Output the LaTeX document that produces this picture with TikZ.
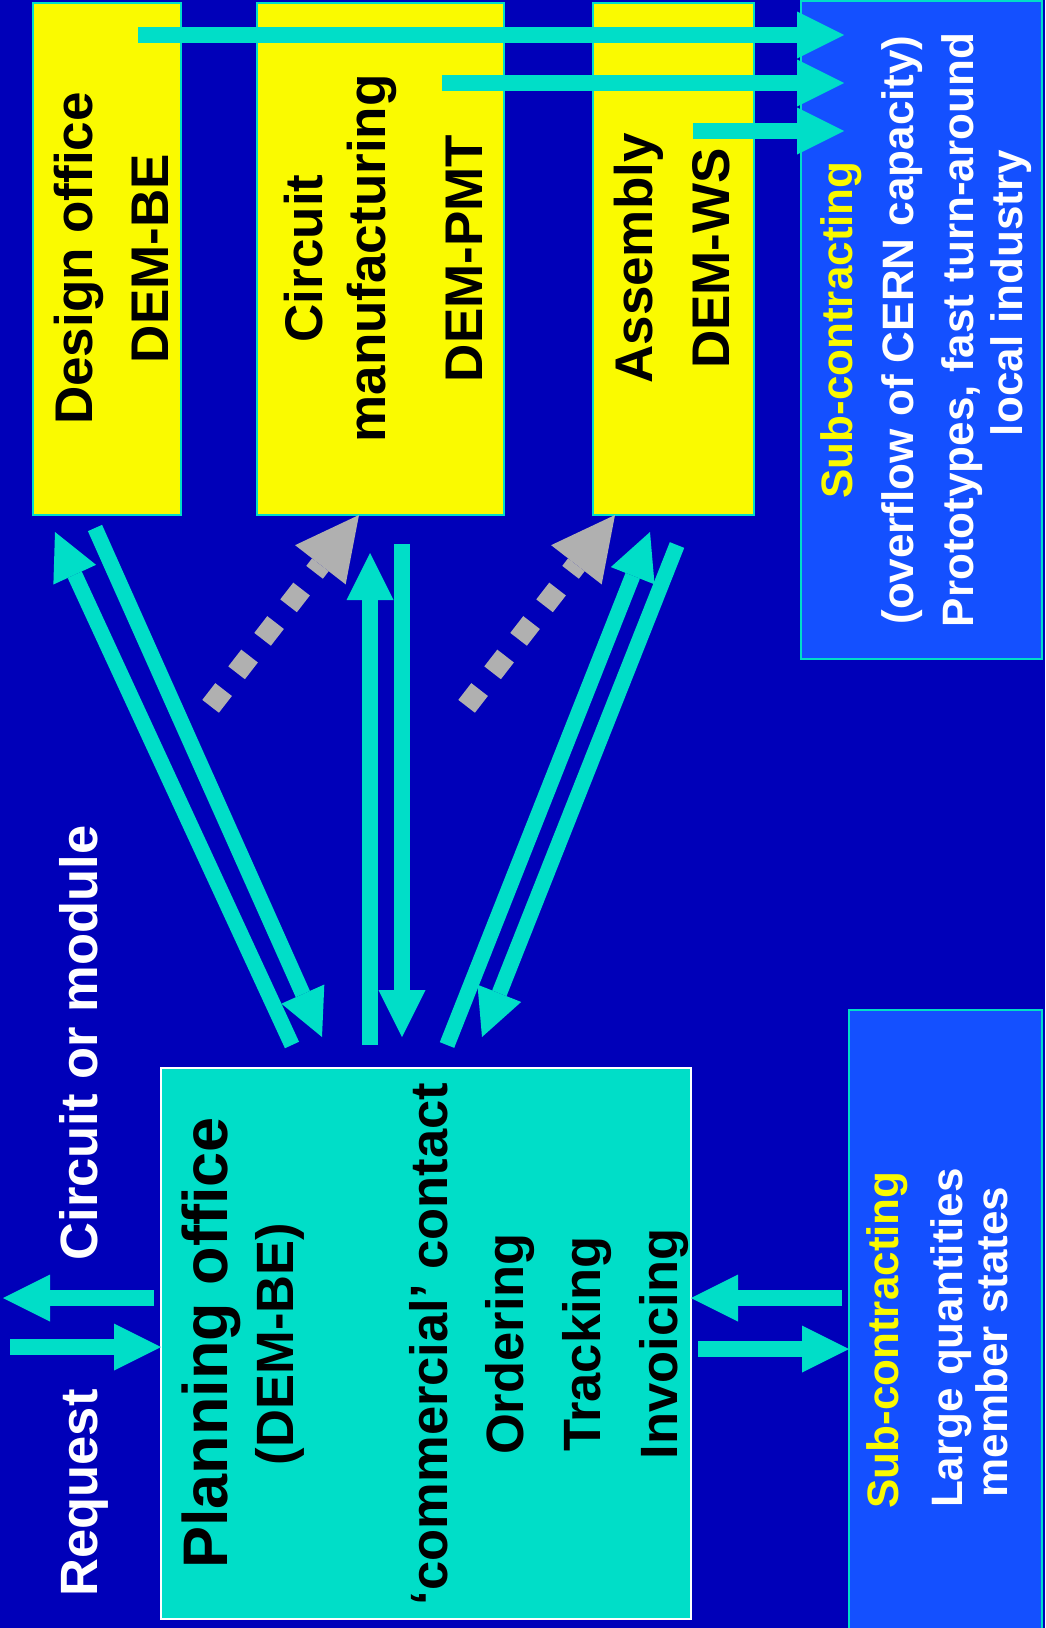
\documentclass[tikz,border=0pt]{standalone}
\usepackage{fontspec}
\setmainfont{Liberation Sans}
\usetikzlibrary{arrows.meta}
\definecolor{bg}{RGB}{0,0,185}
\definecolor{cy}{RGB}{0,222,200}
\definecolor{yl}{RGB}{250,250,0}
\definecolor{sb}{RGB}{20,80,255}
\definecolor{gr}{RGB}{176,176,176}
\begin{document}
\begin{tikzpicture}[x=1pt,y=-1pt,
  ybox/.style={draw=cy, line width=2pt, fill=yl, inner sep=0pt},
  sbox/.style={draw=cy, line width=2pt, fill=sb, inner sep=0pt},
  pbox/.style={draw=white, line width=2.5pt, fill=cy, inner sep=0pt},
  txt/.style={rotate=90, anchor=base, inner sep=0pt, font=\bfseries\fontsize{53}{60}\selectfont, text=black},
  ptxt/.style={txt, font=\bfseries\fontsize{52.5}{60}\selectfont},
  bigtxt/.style={txt, font=\bfseries\fontsize{63}{70}\selectfont},
  stxt/.style={txt, font=\bfseries\fontsize{44}{50}\selectfont, text=white},
  ytxt/.style={stxt, text=yl},
  wtxt/.style={ptxt, text=white},
  flow/.style={draw=cy, line width=15.5pt, -{Triangle[length=47pt,width=47pt,line width=0pt]}},
  dots/.style={draw=gr, line width=21pt, dash pattern=on 21.2pt off 21.2pt, -{Triangle[length=63pt,width=64pt,line width=0pt]}}
]
\useasboundingbox (0,0) rectangle (1045,1628);
\fill[bg] (0,0) rectangle (1045,1628);

% boxes
\node[ybox, minimum width=148pt, minimum height=512.5pt] (design) at (107,258.75) {};
\node[ybox, minimum width=247pt, minimum height=512.5pt] (circuit) at (380.5,258.75) {};
\node[ybox, minimum width=161pt, minimum height=512.5pt] (assembly) at (673.5,258.75) {};
\node[sbox, minimum width=241pt, minimum height=658.5pt] (subtop) at (921.5,329.75) {};
\node[sbox, minimum width=193pt, minimum height=640pt] (subbot) at (945.5,1330) {};
\node[pbox, minimum width=530pt, minimum height=551pt] (planning) at (426,1343.5) {};

% texts in boxes
\node[txt] (t1) at (92,258.5) {Design office};
\node[txt] (t2) at (168,258.5) {DEM-BE};
\node[txt] (t3) at (322,258.5) {Circuit};
\node[txt] (t4) at (385,258.5) {manufacturing};
\node[txt] (t5) at (482,258.5) {DEM-PMT};
\node[txt] (t6) at (652,258.5) {Assembly};
\node[txt] (t7) at (729,258.5) {DEM-WS};

\node[ytxt] (s1) at (852,330) {Sub-contracting};
\node[stxt] (s2) at (913,330) {(overflow of CERN capacity)};
\node[stxt] (s3) at (973,330) {Prototypes, fast turn-around};
\node[stxt] (s4) at (1022,293) {local industry};

\node[ytxt] (b1) at (898,1340) {Sub-contracting};
\node[stxt] (b2) at (962,1338) {Large quantities};
\node[stxt] (b3) at (1007,1342) {member states};

\node[bigtxt] (p1) at (227,1343) {Planning office};
\node[ptxt] (p2) at (293,1344) {(DEM-BE)};
\node[ptxt] (p3) at (447,1344) {‘commercial’ contact};
\node[ptxt] (p4) at (523,1344) {Ordering};
\node[ptxt] (p5) at (600,1344) {Tracking};
\node[ptxt] (p6) at (677,1344) {Invoicing};

\node[wtxt] (l1) at (97,1493) {Request};
\node[wtxt] (l2) at (97,1043) {Circuit or module};

% arrow end points
\coordinate (aS) at (292,1045); \coordinate (aE) at (55,532);
\coordinate (bS) at (95,528);   \coordinate (bE) at (322,1037);
\coordinate (cS) at (370,1045); \coordinate (cE) at (370,553);
\coordinate (dS) at (402,544);  \coordinate (dE) at (402,1037);
\coordinate (eS) at (447,1045); \coordinate (eE) at (650,532);
\coordinate (fS) at (677,545);  \coordinate (fE) at (482,1037);
\coordinate (gS) at (138,35);   \coordinate (gE) at (844,35);
\coordinate (hS) at (442,83);   \coordinate (hE) at (844,83);
\coordinate (iS) at (693,131);  \coordinate (iE) at (844,131);
\coordinate (reqS) at (10,1347);  \coordinate (reqE) at (161,1347);
\coordinate (resS) at (154,1298); \coordinate (resE) at (3,1298);
\coordinate (boS) at (698,1349);  \coordinate (boE) at (849,1349);
\coordinate (biS) at (842,1298);  \coordinate (biE) at (691,1298);
\coordinate (g1S) at (210.6,706.3); \coordinate (g1E) at (359,515);
\coordinate (g2S) at (466.6,706.3); \coordinate (g2E) at (615,515);

% arrows
\draw[flow] (aS) -- (aE);
\draw[flow] (bS) -- (bE);
\draw[flow] (cS) -- (cE);
\draw[flow] (dS) -- (dE);
\draw[flow] (eS) -- (eE);
\draw[flow] (fS) -- (fE);
\draw[flow] (gS) -- (gE);
\draw[flow] (hS) -- (hE);
\draw[flow] (iS) -- (iE);
\draw[flow] (reqS) -- (reqE);
\draw[flow] (resS) -- (resE);
\draw[flow] (boS) -- (boE);
\draw[flow] (biS) -- (biE);
\draw[dots] (g1S) -- (g1E);
\draw[dots] (g2S) -- (g2E);
\end{tikzpicture}
\end{document}
